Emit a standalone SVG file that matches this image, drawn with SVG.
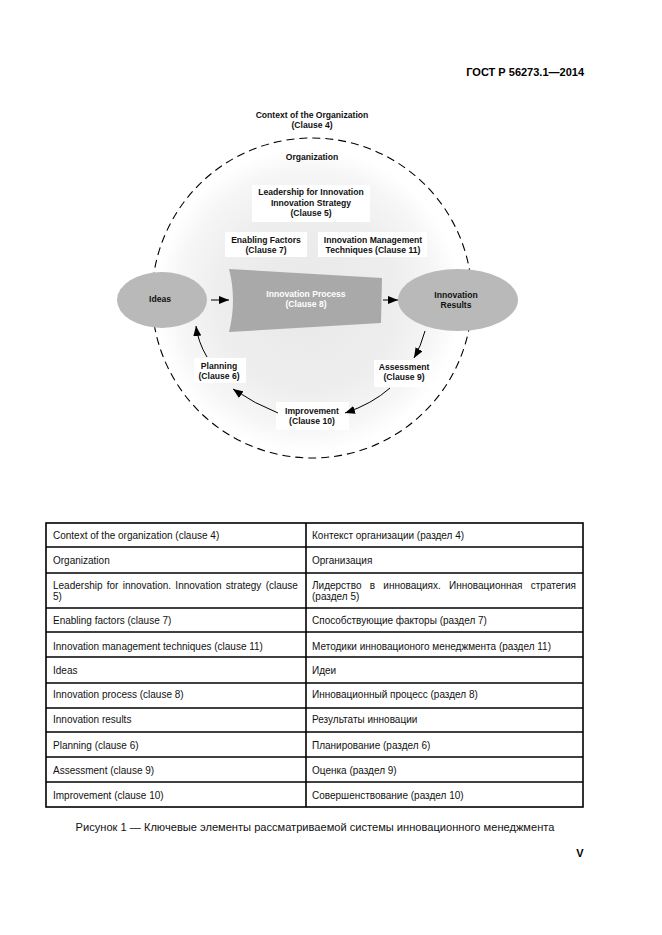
<svg xmlns="http://www.w3.org/2000/svg" width="662" height="935" viewBox="0 0 662 935">
<defs>
<radialGradient id="bg" cx="308" cy="300" r="152" gradientUnits="userSpaceOnUse">
<stop offset="0" stop-color="#e8e8e8"/>
<stop offset="0.6" stop-color="#eeeeee"/>
<stop offset="0.85" stop-color="#f6f6f6"/>
<stop offset="1" stop-color="#ffffff"/>
</radialGradient>
<marker id="ah" markerWidth="10" markerHeight="8" refX="10" refY="4" orient="auto" markerUnits="userSpaceOnUse">
<path d="M0,0 L10,4 L0,8 Z" fill="#000"/>
</marker>
<style>
.dt{font-family:"Liberation Sans",Arial,sans-serif;font-weight:bold;font-size:8.6px;fill:#111;text-anchor:middle}
.wt{font-family:"Liberation Sans",Arial,sans-serif;font-weight:bold;font-size:8.6px;fill:#fff;text-anchor:middle}
.tt{font-family:"Liberation Sans",Arial,sans-serif;font-size:10px;fill:#111}
.box{fill:#fff;stroke:none}
.ell{fill:#b9b9b9;stroke:none}
.con{fill:none;stroke:#000;stroke-width:1;marker-end:url(#ah)}
.tl{stroke:#000;stroke-width:1.6;fill:none}
</style>
</defs>
<rect width="662" height="935" fill="#fff"/>
<text x="584" y="76" font-family="Liberation Sans,Arial,sans-serif" font-weight="bold" font-size="11" text-anchor="end" fill="#000">ГОСТ Р 56273.1—2014</text>

<g id="context">
<circle cx="312" cy="298" r="160" fill="url(#bg)" stroke="#000" stroke-width="1.1" stroke-dasharray="8,5"/>
<rect x="245" y="106" width="134" height="26" fill="#fff"/>
<text class="dt" x="312" y="118">Context of the Organization</text>
<text class="dt" x="312" y="128">(Clause 4)</text>
</g>
<g id="organization">
<text class="dt" x="312" y="160">Organization</text>
</g>
<g id="leadership">
<rect class="box" x="252" y="185" width="118" height="37"/>
<text class="dt" x="311" y="195">Leadership for Innovation</text>
<text class="dt" x="311" y="206">Innovation Strategy</text>
<text class="dt" x="311" y="216">(Clause 5)</text>
</g>
<g id="enabling">
<rect class="box" x="225" y="232" width="82" height="25"/>
<text class="dt" x="266" y="243">Enabling Factors</text>
<text class="dt" x="266" y="253">(Clause 7)</text>
</g>
<g id="techniques">
<rect class="box" x="318" y="232" width="109" height="25"/>
<text class="dt" x="373" y="243">Innovation Management</text>
<text class="dt" x="373" y="253">Techniques (Clause 11)</text>
</g>
<g id="ideas">
<ellipse class="ell" cx="162" cy="300" rx="45" ry="28"/>
<text class="dt" x="160" y="302">Ideas</text>
</g>
<g id="process">
<path d="M229,269 L382,278 L381,323 L229,332 Q237,300 229,269 Z" fill="#a9a9a9"/>
<text class="wt" x="306" y="297">Innovation Process</text>
<text class="wt" x="306" y="307">(Clause 8)</text>
</g>
<g id="results">
<ellipse class="ell" cx="458" cy="300" rx="60" ry="31"/>
<text class="dt" x="456" y="298">Innovation</text>
<text class="dt" x="456" y="308">Results</text>
</g>
<g id="assessment">
<rect class="box" x="374" y="360" width="58" height="27"/>
<text class="dt" x="404" y="370">Assessment</text>
<text class="dt" x="404" y="380">(Clause 9)</text>
</g>
<g id="improvement">
<rect class="box" x="276" y="402" width="73" height="28"/>
<text class="dt" x="312" y="414">Improvement</text>
<text class="dt" x="312" y="424">(Clause 10)</text>
</g>
<g id="planning">
<rect class="box" x="194" y="358" width="52" height="25"/>
<text class="dt" x="219" y="369">Planning</text>
<text class="dt" x="219" y="379">(Clause 6)</text>
</g>
<g id="connectors">
<path class="con" d="M211,300 L229,300"/>
<path class="con" d="M383,300 L398,300"/>
<path class="con" d="M425,331 Q421,346 414,358"/>
<path class="con" d="M390,388 Q372,404 345,413"/>
<path class="con" d="M278,413 Q255,404 233,389"/>
<path class="con" d="M207,357 Q198,342 196,326"/>
</g>

<g id="table">
<rect class="tl" x="46" y="523" width="537" height="284"/>
<line class="tl" x1="306" y1="523" x2="306" y2="807"/>
<line class="tl" x1="46" y1="547" x2="583" y2="547"/>
<line class="tl" x1="46" y1="573" x2="583" y2="573"/>
<line class="tl" x1="46" y1="608" x2="583" y2="608"/>
<line class="tl" x1="46" y1="632" x2="583" y2="632"/>
<line class="tl" x1="46" y1="657" x2="583" y2="657"/>
<line class="tl" x1="46" y1="683" x2="583" y2="683"/>
<line class="tl" x1="46" y1="708" x2="583" y2="708"/>
<line class="tl" x1="46" y1="732" x2="583" y2="732"/>
<line class="tl" x1="46" y1="757" x2="583" y2="757"/>
<line class="tl" x1="46" y1="782" x2="583" y2="782"/>
<text class="tt" x="53" y="539">Context of the organization (clause 4)</text>
<text class="tt" x="53" y="564">Organization</text>
<text class="tt" x="53" y="589" word-spacing="1.5">Leadership for innovation. Innovation strategy (clause</text>
<text class="tt" x="53" y="600">5)</text>
<text class="tt" x="53" y="624">Enabling factors (clause 7)</text>
<text class="tt" x="53" y="650">Innovation management techniques (clause 11)</text>
<text class="tt" x="53" y="674">Ideas</text>
<text class="tt" x="53" y="698">Innovation process (clause 8)</text>
<text class="tt" x="53" y="723">Innovation results</text>
<text class="tt" x="53" y="749">Planning (clause 6)</text>
<text class="tt" x="53" y="774">Assessment (clause 9)</text>
<text class="tt" x="53" y="799">Improvement (clause 10)</text>
<text class="tt" x="312" y="539">Контекст организации (раздел 4)</text>
<text class="tt" x="312" y="564">Организация</text>
<text class="tt" x="312" y="589" word-spacing="5.5">Лидерство в инновациях. Инновационная стратегия</text>
<text class="tt" x="312" y="600">(раздел 5)</text>
<text class="tt" x="312" y="624">Способствующие факторы (раздел 7)</text>
<text class="tt" x="312" y="650">Методики инновационого менеджмента (раздел 11)</text>
<text class="tt" x="312" y="674">Идеи</text>
<text class="tt" x="312" y="698">Инновационный процесс (раздел 8)</text>
<text class="tt" x="312" y="723">Результаты инновации</text>
<text class="tt" x="312" y="749">Планирование (раздел 6)</text>
<text class="tt" x="312" y="774">Оценка (раздел 9)</text>
<text class="tt" x="312" y="799">Совершенствование (раздел 10)</text>
</g>
<text x="315" y="831" font-family="Liberation Sans,Arial,sans-serif" font-size="11.1" text-anchor="middle" fill="#111">Рисунок 1 — Ключевые элементы рассматриваемой системы инновационного менеджмента</text>
<text x="580" y="857" font-family="Liberation Sans,Arial,sans-serif" font-weight="bold" font-size="11" text-anchor="middle" fill="#000">V</text>
</svg>
